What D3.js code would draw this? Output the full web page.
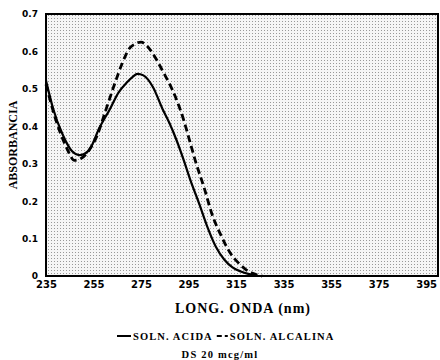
<!DOCTYPE html>
<html>
<head>
<meta charset="utf-8">
<script src="https://cdn.jsdelivr.net/npm/d3@7"></script>
<style>
  body { margin: 0; background: #fff; }
  svg { display: block; }
</style>
</head>
<body>
<div id="chart"></div>
<script>
// wavelength (nm) and absorbance
const acidNm  = [235, 238, 242, 246, 249, 253, 257.5, 262, 265.5, 269, 271.5, 273.5, 276, 280, 284, 287, 290, 293, 296, 299.5, 303, 306.5, 310, 313.5, 317, 320.5, 324];
const acidAbs = [0.522, 0.447, 0.378, 0.333, 0.323, 0.335, 0.396, 0.447, 0.490, 0.517, 0.532, 0.540, 0.536, 0.505, 0.447, 0.408, 0.362, 0.309, 0.252, 0.193, 0.130, 0.078, 0.044, 0.023, 0.012, 0.005, 0];

const alcNm  = [235, 239, 243.5, 247, 250, 253, 256.5, 260, 264, 267, 270, 272.5, 275, 277.5, 280, 284, 289.5, 293, 295, 298, 301.5, 305, 309, 312.5, 316, 319, 322, 326];
const alcAbs = [0.512, 0.420, 0.345, 0.309, 0.315, 0.335, 0.375, 0.440, 0.515, 0.567, 0.607, 0.620, 0.625, 0.615, 0.594, 0.549, 0.478, 0.416, 0.372, 0.305, 0.237, 0.163, 0.104, 0.062, 0.035, 0.018, 0.007, 0];

const xTicks = [235, 255, 275, 295, 315, 335, 355, 375, 395];
const yTicks = [0, 0.1, 0.2, 0.3, 0.4, 0.5, 0.6, 0.7];
const seriesNames = ["SOLN. ACIDA", "SOLN. ALCALINA"];

const width = 440, height = 360;
const margin = { top: 14, right: 2, bottom: 84, left: 46 };

const svg = d3.select("#chart").append("svg")
  .attr("width", width)
  .attr("height", height);

const x = d3.scaleLinear().domain([235, 400]).range([margin.left, width - margin.right]);
const y = d3.scaleLinear().domain([0, 0.7]).range([height - margin.bottom, margin.top]);

// halftone-ish grey of the scanned background
const defs = svg.append("defs");
const pat = defs.append("pattern")
  .attr("id", "dots")
  .attr("width", 3).attr("height", 3)
  .attr("patternUnits", "userSpaceOnUse");
pat.append("rect").attr("width", 3).attr("height", 3).attr("fill", "#f6f6f6");
pat.append("rect").attr("width", 1).attr("height", 1).attr("fill", "#999");

svg.append("rect")
  .attr("x", x(235)).attr("y", y(0.7))
  .attr("width", x(400) - x(235))
  .attr("height", y(0) - y(0.7))
  .attr("fill", "url(#dots)");

// frame
svg.append("rect")
  .attr("x", x(235)).attr("y", y(0.7))
  .attr("width", x(400) - x(235))
  .attr("height", y(0) - y(0.7))
  .attr("fill", "none")
  .attr("stroke", "#000")
  .attr("stroke-width", 2);

const xAxis = svg.append("g")
  .attr("transform", `translate(0,${y(0)})`)
  .call(d3.axisBottom(x).tickValues(xTicks).tickSize(0).tickPadding(5).tickFormat(d3.format("d")));
xAxis.select(".domain").remove();
xAxis.selectAll("text")
  .attr("font-family", "DejaVu Sans")
  .attr("font-weight", "bold")
  .attr("font-size", 10)
  .attr("fill", "#000");

const yAxis = svg.append("g")
  .attr("transform", `translate(${x(235)},0)`)
  .call(d3.axisLeft(y).tickValues(yTicks).tickSize(0).tickPadding(8)
    .tickFormat(d => d === 0 ? "0" : d3.format(".1f")(d)));
yAxis.select(".domain").remove();
yAxis.selectAll("text")
  .attr("font-family", "DejaVu Sans")
  .attr("font-weight", "bold")
  .attr("font-size", 9)
  .attr("fill", "#000");

const line = d3.line()
  .x(d => x(d[0]))
  .y(d => y(d[1]))
  .curve(d3.curveMonotoneX);

svg.append("path")
  .datum(d3.zip(acidNm, acidAbs))
  .attr("d", line)
  .attr("fill", "none")
  .attr("stroke", "#000")
  .attr("stroke-width", 2.2);

svg.append("path")
  .datum(d3.zip(alcNm, alcAbs))
  .attr("d", line)
  .attr("fill", "none")
  .attr("stroke", "#000")
  .attr("stroke-width", 2.8)
  .attr("stroke-dasharray", "7,4");

// axis titles
svg.append("text")
  .attr("x", 243).attr("y", 313)
  .attr("text-anchor", "middle")
  .attr("font-family", "Liberation Serif")
  .attr("font-weight", "bold")
  .attr("font-size", 14)
  .attr("letter-spacing", 1)
  .text("LONG. ONDA (nm)");

svg.append("text")
  .attr("transform", "translate(17,145) rotate(-90)")
  .attr("text-anchor", "middle")
  .attr("font-family", "Liberation Serif")
  .attr("font-weight", "bold")
  .attr("font-size", 12)
  .text("ABSORBANCIA");

// legend, laid out left to right
const leg = svg.append("g").attr("font-family", "Liberation Serif")
  .attr("font-weight", "bold").attr("font-size", 10.5).attr("letter-spacing", 1.1);
let lx = 117;
const dashes = [null, "5,3"];
seriesNames.forEach((name, i) => {
  leg.append("line").attr("x1", lx).attr("x2", lx + (i === 0 ? 14 : 11))
    .attr("y1", 336).attr("y2", 336)
    .attr("stroke", "#000").attr("stroke-width", 2)
    .attr("stroke-dasharray", dashes[i]);
  lx += (i === 0 ? 16 : 13);
  const t = leg.append("text").attr("x", lx).attr("y", 340).text(name);
  lx += t.node().getComputedTextLength() + 4;
});

svg.append("text")
  .attr("x", 220).attr("y", 358)
  .attr("text-anchor", "middle")
  .attr("font-family", "Liberation Serif")
  .attr("font-weight", "bold")
  .attr("font-size", 10.5)
  .attr("letter-spacing", 1.2)
  .text("DS 20 mcg/ml");
</script>
</body>
</html>
